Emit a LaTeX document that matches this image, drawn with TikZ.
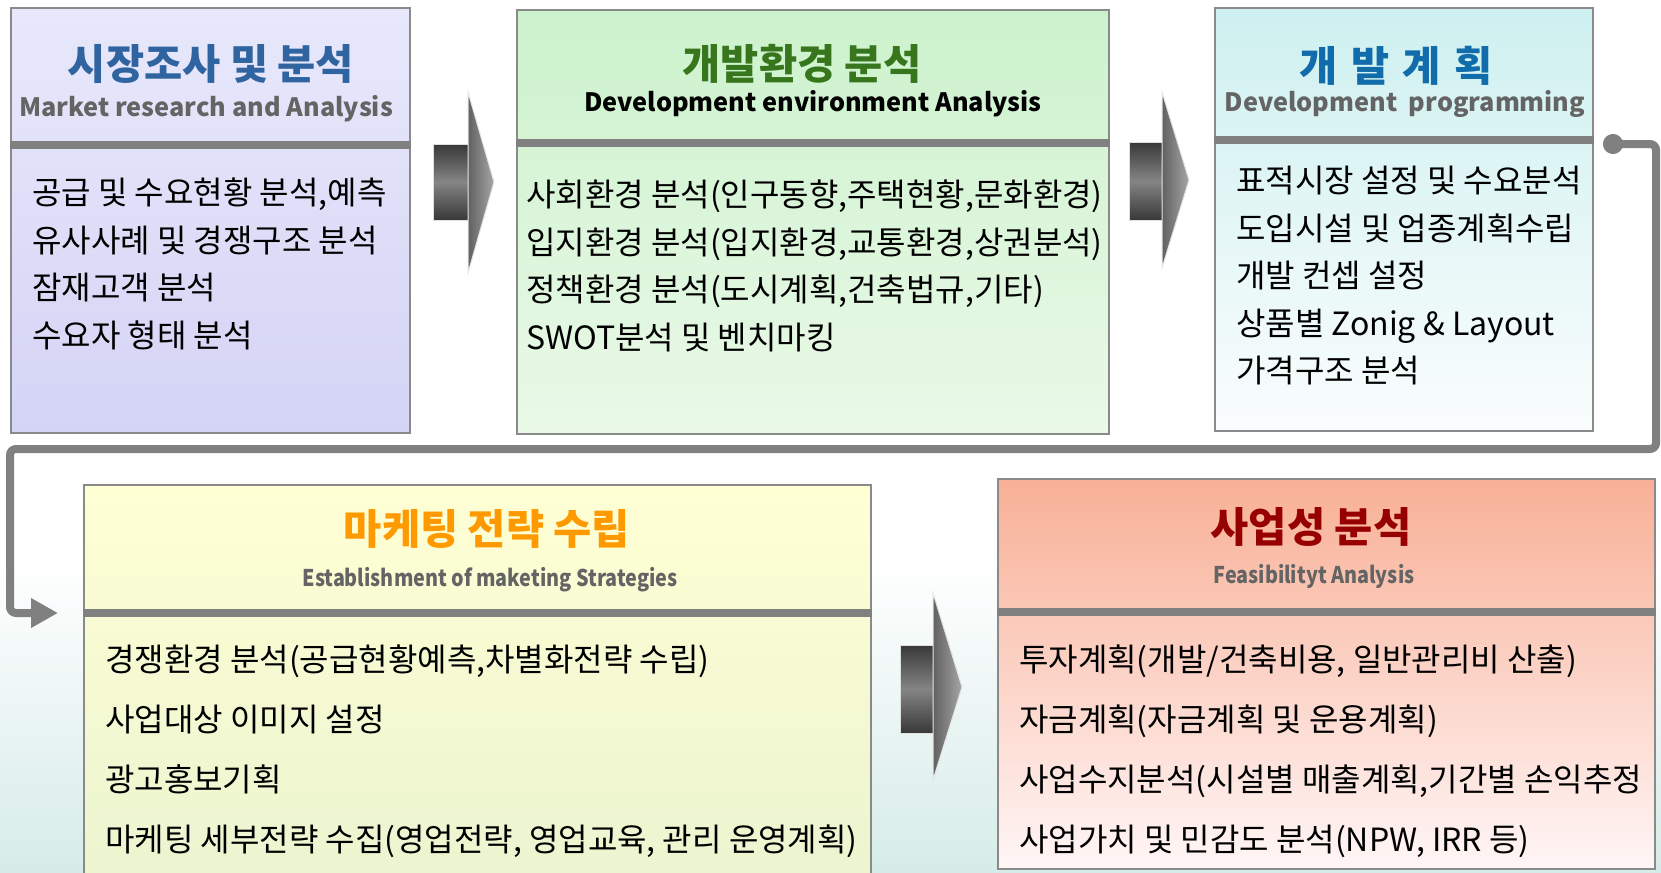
\documentclass[tikz,border=0pt]{standalone}
\usepackage{fontspec}
\setmainfont{Noto Sans CJK KR}
\newfontfamily\krnarrow[FakeStretch=0.86]{Noto Sans CJK KR}
\usetikzlibrary{arrows.meta}

\definecolor{boxgray}{RGB}{138,138,138}
\definecolor{bargray}{RGB}{128,128,128}
\definecolor{subgray}{RGB}{100,100,100}
\definecolor{tblue}{RGB}{47,100,160}
\definecolor{tgreen}{RGB}{56,118,29}
\definecolor{tcyan}{RGB}{16,108,170}
\definecolor{torange}{RGB}{255,153,0}
\definecolor{tred}{RGB}{150,0,0}

\begin{document}
\begin{tikzpicture}[x=1pt,y=-1pt]
	\tikzstyle{every node}=[inner sep=0pt, align=left]
	\tikzstyle{box}=[draw=boxgray, line width=2.5pt]
	\tikzstyle{bar}=[draw=bargray, line width=8pt]
	\tikzstyle{title}=[anchor=center, font=\fontsize{41.5}{50}\selectfont\bfseries]
	\tikzstyle{sub}=[anchor=center, font=\fontsize{25.3}{32}\selectfont\bfseries, text=subgray]
	\tikzstyle{subsmall}=[anchor=center, font=\krnarrow\fontsize{23}{30}\selectfont\bfseries, text=subgray]
	\tikzstyle{items}=[anchor=north west, font=\fontsize{32}{47.5}\selectfont]
	\tikzstyle{itemswide}=[anchor=north west, font=\fontsize{32}{60}\selectfont]
	\tikzstyle{shaft}=[top color=black!78, bottom color=black!78, middle color=black!48, draw=gray!25, line width=1pt]
	\tikzstyle{head}=[left color=black!62, right color=black!35, draw=gray!20, line width=1pt]
	\tikzstyle{link}=[draw=bargray, line width=8pt, rounded corners=6pt]

	\useasboundingbox (0,0) rectangle (1661,872);
	\clip (0,0) rectangle (1661,872);
	\shade[top color=white, bottom color={rgb,255:red,214;green,236;blue,232}] (0,560) rectangle (1661,872);

	% boxes
	\node[box, top color={rgb,255:red,232;green,232;blue,252}, bottom color={rgb,255:red,212;green,212;blue,245}, minimum width=399pt, minimum height=425pt] (b1) at (210.5,220.5) {};
	\node[box, top color={rgb,255:red,204;green,242;blue,204}, bottom color={rgb,255:red,234;green,249;blue,232}, minimum width=592pt, minimum height=424pt] (b2) at (813,222) {};
	\node[box, top color={rgb,255:red,206;green,240;blue,240}, bottom color={rgb,255:red,250;green,253;blue,253}, minimum width=378pt, minimum height=423pt] (b3) at (1404,219.5) {};
	\node[box, top color={rgb,255:red,255;green,255;blue,212}, bottom color={rgb,255:red,234;green,244;blue,208}, minimum width=787pt, minimum height=415pt] (b4) at (477.5,692.5) {};
	\node[box, top color={rgb,255:red,248;green,176;blue,150}, bottom color={rgb,255:red,255;green,246;blue,246}, minimum width=657pt, minimum height=390pt] (b5) at (1326.5,674) {};

	\draw[bar] (b1.west |- 0,145) -- (b1.east |- 0,145);
	\draw[bar] (b2.west |- 0,143) -- (b2.east |- 0,143);
	\draw[bar] (b3.west |- 0,140) -- (b3.east |- 0,140);
	\draw[bar] (b4.west |- 0,613) -- (b4.east |- 0,613);
	\draw[bar] (b5.west |- 0,612) -- (b5.east |- 0,612);

	% headers
	\node[title, text=tblue] (h1) at (211,64) {시장조사 및 분석};
	\node[sub] (s1) at (206,109) {Market research and Analysis};
	\node[title, text=tgreen] (h2) at (802,64) {개발환경 분석};
	\node[sub, text=black] (s2) at (813,104) {Development environment Analysis};
	\node[title, text=tcyan] (h3) at (1396,66) {개\hspace{4pt} 발\hspace{4pt} 계\hspace{4pt} 획};
	\node[sub] (s3) at (1405,104) {Development \ programming};
	\node[title, text=torange] (h4) at (487,529) {마케팅 전략 수립};
	\node[subsmall] (s4) at (490,580) {Establishment of maketing Strategies};
	\node[title, text=tred] (h5) at (1311,527) {사업성 분석};
	\node[subsmall] (s5) at (1314,576) {Feasibilityt Analysis};

	% contents
	\node[items] (l1) at (32,178) {공급 및 수요현황 분석,예측\\유사사례 및 경쟁구조 분석\\잠재고객 분석\\수요자 형태 분석};
	\node[items] (l2) at (526,180) {사회환경 분석(인구동향,주택현황,문화환경)\\입지환경 분석(입지환경,교통환경,상권분석)\\정책환경 분석(도시계획,건축법규,기타)\\SWOT분석 및 벤치마킹};
	\node[items] (l3) at (1236,166) {표적시장 설정 및 수요분석\\도입시설 및 업종계획수립\\개발 컨셉 설정\\상품별 Zonig \& Layout\\가격구조 분석};
	\node[itemswide] (l4) at (105,645) {경쟁환경 분석(공급현황예측,차별화전략 수립)\\사업대상 이미지 설정\\광고홍보기획\\마케팅 세부전략 수집(영업전략, 영업교육, 관리 운영계획)};
	\node[itemswide] (l5) at (1019,645) {투자계획(개발/건축비용, 일반관리비 산출)\\자금계획(자금계획 및 운용계획)\\사업수지분석(시설별 매출계획,기간별 손익추정\\사업가치 및 민감도 분석(NPW, IRR 등)};

	% block arrows
	\path[shaft] (433,144) rectangle (469,220);
	\path[head] (468,92) -- (494,182) -- (468,273) -- cycle;
	\path[shaft] (1129,142) rectangle (1163,220);
	\path[head] (1162,92) -- (1189,180) -- (1162,268) -- cycle;
	\path[shaft] (900,645) rectangle (934,733);
	\path[head] (933,593) -- (962,687) -- (933,780) -- cycle;

	% return line
	\coordinate (d3) at (1603,144);
	\coordinate (e4) at (58,613);
	\draw[link, {Circle[length=20pt]}-{Triangle[length=27pt,width=28pt]}] (d3) -- (1656,144) -- (1656,449) -- (10,449) -- (10,613) -- (e4);
\end{tikzpicture}
\end{document}
